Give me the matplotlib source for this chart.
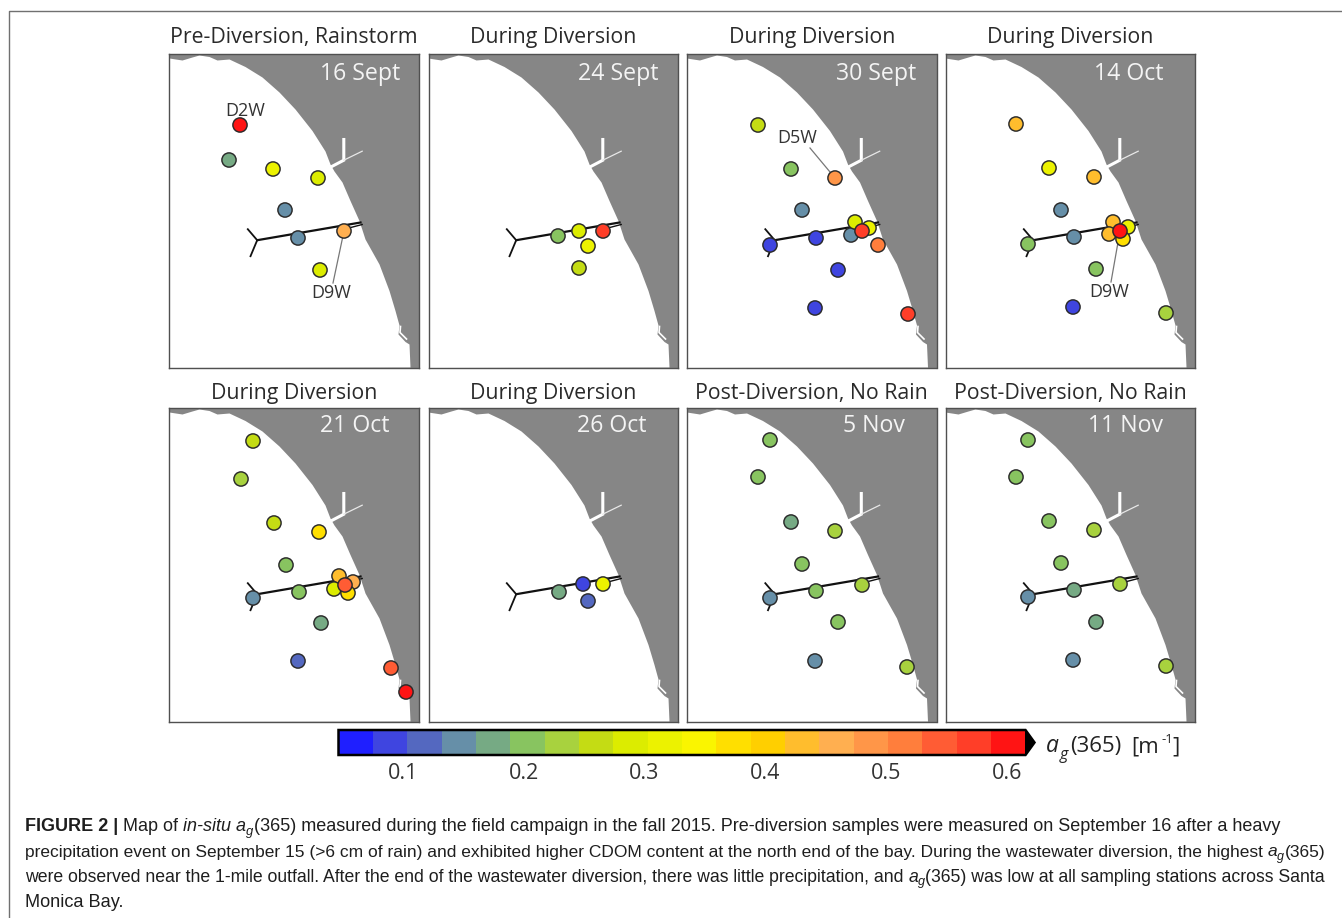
import numpy as np
import matplotlib
matplotlib.use("Agg")
import matplotlib.pyplot as plt
from matplotlib.colors import ListedColormap, BoundaryNorm
from matplotlib.cm import ScalarMappable
from matplotlib.lines import Line2D

W, H = 1342, 918

# ---- data -------------------------------------------------------------
titles = ["Pre-Diversion, Rainstorm", "During Diversion", "During Diversion", "During Diversion",
          "During Diversion", "During Diversion", "Post-Diversion, No Rain", "Post-Diversion, No Rain"]
dates = ["16 Sept", "24 Sept", "30 Sept", "14 Oct", "21 Oct", "26 Oct", "5 Nov", "11 Nov"]
date_right = [230.5, 230.5, 229.5, 217.5, 219.5, 218.5, 217.5, 217.5]

sept16_x = [240, 229, 273, 318, 285, 298, 344, 320]
sept16_y = [125, 160, 169, 178, 210, 238, 231, 270]
sept16_v = [0.60, 0.18, 0.33, 0.29, 0.15, 0.14, 0.47, 0.28]

sept24_x = [558, 579, 603, 588, 579]
sept24_y = [236, 231, 231, 246, 268]
sept24_v = [0.21, 0.29, 0.58, 0.32, 0.27]

sept30_x = [758, 791, 835, 802, 770, 816, 851, 855, 869, 862, 878, 838, 815, 908]
sept30_y = [125, 169, 178, 210, 245, 238, 235, 222, 228, 231, 245, 270, 308, 314]
sept30_v = [0.26, 0.20, 0.48, 0.15, 0.08, 0.09, 0.16, 0.28, 0.33, 0.58, 0.52, 0.09, 0.09, 0.58]

oct14_x = [1016, 1049, 1094, 1061, 1074, 1028, 1113, 1128, 1109, 1123, 1120, 1096, 1073, 1166]
oct14_y = [124, 168, 177, 210, 237, 244, 222, 227, 234, 239, 231, 269, 307, 313]
oct14_v = [0.43, 0.33, 0.42, 0.14, 0.16, 0.21, 0.44, 0.33, 0.44, 0.36, 0.60, 0.21, 0.09, 0.23]

oct21_x = [253, 241, 274, 319, 286, 253, 299, 339, 353, 334, 348, 345, 321, 298, 391, 406]
oct21_y = [441, 479, 523, 532, 565, 598, 592, 576, 582, 589, 593, 585, 623, 661, 668, 692]
oct21_v = [0.26, 0.23, 0.26, 0.37, 0.20, 0.14, 0.20, 0.44, 0.46, 0.29, 0.36, 0.53, 0.17, 0.11, 0.53, 0.60]

oct26_x = [559, 583, 603, 588]
oct26_y = [592, 584, 584, 601]
oct26_v = [0.17, 0.10, 0.33, 0.13]

nov5_x = [770, 758, 791, 835, 802, 770, 816, 862, 838, 815, 907]
nov5_y = [440, 477, 522, 531, 564, 598, 591, 585, 622, 661, 667]
nov5_v = [0.20, 0.19, 0.17, 0.23, 0.20, 0.15, 0.20, 0.23, 0.20, 0.15, 0.23]

nov11_x = [1028, 1016, 1049, 1094, 1061, 1028, 1074, 1120, 1096, 1073, 1166]
nov11_y = [440, 477, 521, 530, 563, 597, 590, 584, 622, 660, 666]
nov11_v = [0.20, 0.20, 0.20, 0.23, 0.20, 0.15, 0.17, 0.23, 0.17, 0.14, 0.23]

panel_x = [sept16_x, sept24_x, sept30_x, oct14_x, oct21_x, oct26_x, nov5_x, nov11_x]
panel_y = [sept16_y, sept24_y, sept30_y, oct14_y, oct21_y, oct26_y, nov5_y, nov11_y]
panel_v = [sept16_v, sept24_v, sept30_v, oct14_v, oct21_v, oct26_v, nov5_v, nov11_v]

# map geometry, pixels from the panel's upper-left corner
coast_x = [0, 13, 23, 30, 40, 48, 60, 76, 93, 110, 126, 143, 156, 161, 165, 173, 181, 190, 196, 210, 220, 226, 230, 229, 236, 240, 241]
coast_y = [5, 7, 4, 2, 3.5, 7, 6, 13.5, 24, 39, 56, 77.5, 98, 111, 118, 129, 147.5, 167.5, 186, 211, 237.5, 257.5, 272, 281, 288.5, 291, 314]
harbor_x = [174.3, 174.3, 161.7]
harbor_y = [86, 106.7, 113.3]
channel_x = [174.3, 192.7]
channel_y = [106.7, 97.7]
hook_x = [231, 230.5, 237]
hook_y = [273, 279, 285.5]
outfall_x = [87.7, 191]
outfall_y = [186.7, 169]
branch1_x = [78.3, 87.7, 81]
branch1_y = [175.7, 186.7, 202.7]
inner_x = [171, 192.7]
inner_y = [176.7, 171]

# colour bar
cbar_colors = ["#1f1fff", "#3f45e0", "#5468c0", "#668fa8", "#76aa84", "#88c460", "#a8d23e",
               "#c4dc14", "#dcec00", "#ecf200", "#faf500", "#ffdf00", "#ffcf00", "#ffbd2d",
               "#ffaf50", "#ff9648", "#ff7e3c", "#ff5c34", "#ff3e28", "#ff1414"]
cbar_low, cbar_high = 0.047, 0.615
cbar_ticks = [0.1, 0.2, 0.3, 0.4, 0.5, 0.6]

# callouts: panel, label, label position, leader start, leader end
callouts = [(0, "D2W", (245, 111), None, None),
            (0, "D9W", (331, 293), (344, 231), (333, 283)),
            (2, "D5W", (797, 138), (810, 148), (835, 178)),
            (3, "D9W", (1109, 292), (1120, 231), (1111, 282))]

# colour-bar label pieces: text, left x, baseline y, size, style
cbar_label = [("a", 1046, 752, 16.5, "italic"), ("g", 1059.5, 759, 11.5, "italic"),
              ("(365)", 1070, 752, 16, "normal"), ("[m", 1131, 752, 16, "normal"),
              ("-1", 1161.5, 743, 9.5, "normal"), ("]", 1172, 752, 16, "normal")]

caption = [
    (831, 1281, [("FIGURE 2 | ", "bold", "normal"), ("Map of ", "normal", "normal"), ("in-situ a", "normal", "italic"),
                 ("g", "sub", "italic"),
                 ("(365) measured during the field campaign in the fall 2015. Pre-diversion samples were measured on September 16 after a heavy", "normal", "normal")]),
    (856.5, 1323, [("precipitation event on September 15 (>6 cm of rain) and exhibited higher CDOM content at the north end of the bay. During the wastewater diversion, the highest ", "normal", "normal"),
                 ("a", "normal", "italic"), ("g", "sub", "italic"), ("(365)", "normal", "normal")]),
    (882, 1323, [("were observed near the 1-mile outfall. After the end of the wastewater diversion, there was little precipitation, and ", "normal", "normal"),
                 ("a", "normal", "italic"), ("g", "sub", "italic"),
                 ("(365) was low at all sampling stations across Santa", "normal", "normal")]),
    (907, 123, [("Monica Bay.", "normal", "normal")]),
]

# ---- layout -----------------------------------------------------------
fig = plt.figure(figsize=(W / 100, H / 100), dpi=100, facecolor="white")


def rect(x0, y0, w, h):
    return [x0 / W, 1 - (y0 + h) / H, w / W, h / H]


def fp(x, y):
    return x / W, 1 - y / H


fig.add_artist(Line2D([9 / W, 9 / W, 1], [0, 1 - 10.5 / H, 1 - 10.5 / H], color="#707070", lw=1.0))

edges = np.linspace(cbar_low, cbar_high, len(cbar_colors) + 1)
cmap = ListedColormap(cbar_colors)
cmap.set_over("black")
point_norm = BoundaryNorm(edges, cmap.N)

X0 = [169.5, 428.5, 687, 945.5]
Y0 = [53.5, 407.5]
TITLE_OFF = [16, 13.5]
DATE_OFF = [20, 18]
PW, PH = 249.5, 314.5

for i in range(8):
    row = i // 4
    x0, y0 = X0[i % 4], Y0[row]
    ax = fig.add_axes(rect(x0, y0, PW, PH))
    ax.set_xlim(x0, x0 + PW)
    ax.set_ylim(y0 + PH, y0)
    ax.set_xticks([])
    ax.set_yticks([])
    ax.set_facecolor("#868686")
    for s in ax.spines.values():
        s.set_color("#505050")
        s.set_linewidth(1.0)
    wx = [x0 + c for c in coast_x] + [x0]
    wy = [y0 + c for c in coast_y] + [y0 + PH]
    ax.fill(wx, wy, color="white", lw=0, zorder=1)
    ax.plot([x0 + c for c in harbor_x], [y0 + c for c in harbor_y], color="white", lw=2.2, zorder=2,
            solid_joinstyle="miter")
    ax.plot([x0 + c for c in channel_x], [y0 + c for c in channel_y], color="#e8e8e8", lw=0.9, zorder=2)
    ax.plot([x0 + c for c in hook_x], [y0 + c for c in hook_y], color="white", lw=1.2, zorder=2)
    ax.plot([x0 + c for c in outfall_x], [y0 + c for c in outfall_y], color="#111111", lw=1.6, zorder=3)
    ax.plot([x0 + c for c in branch1_x], [y0 + c for c in branch1_y], color="#111111", lw=1.3, zorder=3)
    ax.plot([x0 + c for c in inner_x], [y0 + c for c in inner_y], color="#111111", lw=1.0, zorder=3)

    for p, label, lp, l0, l1 in callouts:
        if p == i:
            ax.text(lp[0], lp[1], label, ha="center", va="center", fontsize=13,
                    family="Open Sans", color="#333333", zorder=4)
            if l0 is not None:
                ax.plot([l0[0], l1[0]], [l0[1], l1[1]], color="#777777", lw=0.9, zorder=4)

    ax.scatter(panel_x[i], panel_y[i], c=panel_v[i], cmap=cmap, norm=point_norm, s=105,
               edgecolors="#2a2a2a", linewidths=1.05, zorder=5)

    ax.text(x0 + date_right[i], y0 + DATE_OFF[row], dates[i], ha="right", va="center", fontsize=16.7,
            family="Open Sans", color="#f4f4f4", zorder=6)
    tx, ty = fp(x0 + PW / 2, y0 - TITLE_OFF[row])
    fig.text(tx, ty, titles[i], ha="center", va="center", fontsize=15.3, family="Open Sans", color="#2a2a2a")

# colour bar
cax = fig.add_axes(rect(338.5, 730, 696, 25))
sm = ScalarMappable(norm=BoundaryNorm(edges, cmap.N), cmap=cmap)
cb = fig.colorbar(sm, cax=cax, orientation="horizontal", extend="max", extendfrac=9 / 685,
                  spacing="proportional", ticks=cbar_ticks, drawedges=False)
cb.ax.set_xticklabels([f"{t:.1f}" for t in cbar_ticks], fontsize=15.5, family="Open Sans", color="#333333")
cb.ax.tick_params(length=0, pad=6)
cb.ax.minorticks_off()
cb.outline.set_edgecolor("black")
cb.outline.set_linewidth(1.8)
for s, x, y, size, style in cbar_label:
    tx, ty = fp(x, y)
    fig.text(tx, ty, s, ha="left", va="baseline", fontsize=size, style=style,
             family="Open Sans", color="#222222")

# caption, placed piece by piece so that each line fills its measured width
renderer = fig.canvas.get_renderer()


def piece_width(s, size, weight, style):
    a = fig.text(0, 0, s + "|", fontsize=size, family="Liberation Sans", weight=weight, style=style)
    b = fig.text(0, 0, "|", fontsize=size, family="Liberation Sans", weight=weight, style=style)
    w = a.get_window_extent(renderer).width - b.get_window_extent(renderer).width
    a.remove()
    b.remove()
    return w


CAPTION_X = 25
BASE = 10.9
for y, end, pieces in caption:
    natural = 0
    for s, kind, style in pieces:
        size = BASE * 0.72 if kind == "sub" else BASE
        natural += piece_width(s, size, "bold" if kind == "bold" else "normal", style)
    k = (end - CAPTION_X) / natural
    cur = CAPTION_X
    for s, kind, style in pieces:
        size = (BASE * 0.72 if kind == "sub" else BASE) * k
        weight = "bold" if kind == "bold" else "normal"
        py = y + 3.5 if kind == "sub" else y
        tx, ty = fp(cur, py)
        fig.text(tx, ty, s, fontsize=size, family="Liberation Sans", weight=weight, style=style,
                 ha="left", va="baseline", color="#1e1e1e")
        cur += piece_width(s, size, weight, style)

fig.savefig("out.png", dpi=100, facecolor="white")
